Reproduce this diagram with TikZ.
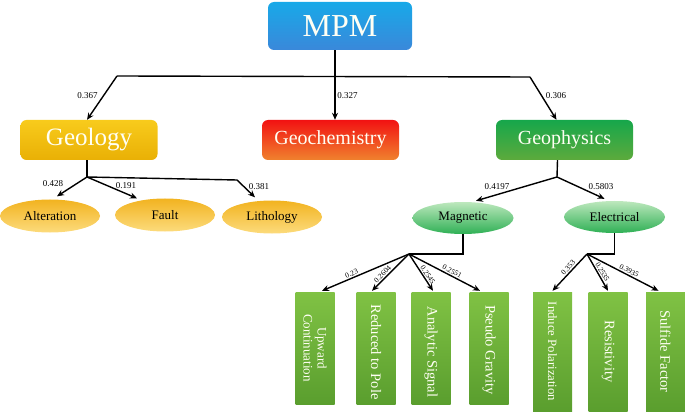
\documentclass[tikz,border=0pt]{standalone}
\usepackage{fontspec}
\setmainfont{Liberation Serif}
\usetikzlibrary{arrows.meta,shapes.geometric,calc}
\definecolor{mpmtop}{HTML}{18A9E8}
\definecolor{mpmbot}{HTML}{3A88DA}
\definecolor{geotop}{HTML}{F8CB1C}
\definecolor{geobot}{HTML}{E9B005}
\definecolor{chemtop}{HTML}{F21212}
\definecolor{chembot}{HTML}{F0822E}
\definecolor{phystop}{HTML}{16A74B}
\definecolor{physbot}{HTML}{5DAA3C}
\definecolor{ytop}{HTML}{F2B320}
\definecolor{ybot}{HTML}{FCDB7C}
\definecolor{gtop}{HTML}{BDE8BD}
\definecolor{gbot}{HTML}{2FB055}
\definecolor{vtop}{HTML}{80C244}
\definecolor{vbot}{HTML}{5A9E2E}
\definecolor{txtwhite}{HTML}{FFFFF4}
\begin{document}
\begin{tikzpicture}[x=1pt,y=-1pt,
  topbox/.style={rounded corners=6pt, text=txtwhite, inner sep=0pt, minimum height=40pt, minimum width=137pt, font=\fontsize{20}{24}\selectfont},
  yell/.style={ellipse, inner sep=0pt, minimum width=100pt, minimum height=33pt, top color=ytop, bottom color=ybot, font=\fontsize{13}{15}\selectfont},
  gell/.style={ellipse, inner sep=0pt, minimum width=101pt, minimum height=32pt, top color=gtop, bottom color=gbot, font=\fontsize{13}{15}\selectfont},
  vbox/.style={rectangle, inner sep=0pt, minimum width=39pt, top color=vtop, bottom color=vbot},
  vtext/.style={rotate=-90, text=txtwhite, align=center, inner sep=0pt, font=\fontsize{14.5}{15}\selectfont},
  wlab/.style={inner sep=1pt, font=\fontsize{9}{10}\selectfont},
  slab/.style={inner sep=1.2pt, sloped, above, font=\fontsize{7.5}{8}\selectfont},
  conn/.style={line width=1.4pt, black},
  arr/.style={conn, -{Stealth[length=7pt,width=6pt]}}]
\path[use as bounding box] (0,0) rectangle (685,414);

% top level
\node[topbox, minimum width=144pt, minimum height=48pt, top color=mpmtop, bottom color=mpmbot, font=\fontsize{32}{36}\selectfont] (mpm) at (340,26) {MPM};
\node[topbox, top color=geotop, bottom color=geobot, font=\fontsize{25}{30}\selectfont] (geol) at (89,140) {Geology};
\node[topbox, top color=chemtop, bottom color=chembot] (chem) at (330.5,140) {Geochemistry};
\node[topbox, top color=phystop, bottom color=physbot] (phys) at (564.5,140) {Geophysics};

\coordinate (j0) at (335,76);
\coordinate (cL) at (117,76);
\coordinate (cR) at (530,77);
\draw[conn] (mpm.south -| j0) -- (j0);
\draw[conn] (cL) -- (cR);
\draw[arr] (cL) -- ($(geol.north)+(-2,0)$);
\draw[arr] (j0) -- (chem.north -| j0);
\draw[arr] (cR) -- ($(phys.north)+(-8,0)$);
\node[wlab] (w367) at (87.5,96) {0.367};
\node[wlab] (w327) at (347.5,96) {0.327};
\node[wlab] (w306) at (556,96) {0.306};

% geology children
\node[yell] (alt) at (50,216) {Alteration};
\node[yell] (fault) at (165,215) {Fault};
\node[yell] (lith) at (272,217) {Lithology};
\coordinate (jG) at (87,177);
\coordinate (kL) at (237,180);
\draw[conn] ($(geol.south)+(-2,0)$) -- (jG);
\draw[arr] (jG) -- ($(alt.north)+(7,-3)$);
\draw[arr] (jG) -- ($(fault.north)+(-28,0)$);
\draw[arr] (jG) -- (kL) -- ($(lith.north)+(-17,-3)$);
\node[wlab] (w428) at (53,184) {0.428};
\node[wlab] (w191) at (126,186) {0.191};
\node[wlab] (w381) at (259,187) {0.381};

% geophysics children
\node[gell] (mag) at (463,218) {Magnetic};
\node[gell] (elec) at (614.5,217) {Electrical};
\coordinate (jP) at (557,177);
\draw[conn] ($(phys.south)+(-7,0)$) -- (jP);
\draw[arr] (jP) -- ($(mag.north)+(13,-1)$);
\draw[arr] (jP) -- ($(elec.north)+(-10,-2)$);
\node[wlab] (w4197) at (497,187) {0.4197};
\node[wlab] (w5803) at (601,187) {0.5803};

% magnetic boxes
\node[vbox, minimum height=112pt] (up) at (315,348) {};
\node[vbox, minimum height=112pt] (red) at (376,348) {};
\node[vbox, minimum height=112pt] (ana) at (431,348) {};
\node[vbox, minimum height=112pt] (pse) at (489,348) {};
\node[vtext, font=\fontsize{13}{14}\selectfont] (tup) at (up.center) {Upward\\Continuation};
\node[vtext] (tred) at ([yshift=-4pt]red.center) {Reduced to Pole};
\node[vtext] (tana) at ([yshift=-4pt]ana.center) {Analytic Signal};
\node[vtext] (tpse) at ([yshift=-2pt]pse.center) {Pseudo Gravity};

\coordinate (jM) at (409,254);
\draw[conn] (mag.south) |- (jM);
\draw[arr] (jM) -- node[slab, pos=0.64] (w23) {0.23} ($(up.north)+(7,-1)$);
\draw[arr] (jM) -- node[slab, pos=0.63] (w2604) {0.2604} ($(red.north)+(-4,-1)$);
\draw[arr] (jM) -- node[slab, pos=0.63] (w2545) {0.2545} ($(ana.north)+(2,-1)$);
\draw[arr] (jM) -- node[slab, pos=0.58] (w2551) {0.2551} ($(pse.north)+(-9,-1)$);

% electrical boxes
\node[vbox, minimum height=119pt] (ind) at (552.5,351.5) {};
\node[vbox, minimum height=119pt] (res) at (608,351.5) {};
\node[vbox, minimum height=119pt] (sul) at (665.5,351.5) {};
\node[vtext, font=\fontsize{12.7}{14}\selectfont] (tind) at (ind.center) {Induce Polarization};
\node[vtext] (tres) at (res.center) {Resistivity};
\node[vtext] (tsul) at (sul.center) {Sulfide Factor};

\coordinate (jE) at (587,254);
\draw[conn] (elec.south) |- (jE);
\draw[arr] (jE) -- node[slab, pos=0.45] (w353) {0.353} ($(ind.north)+(0,-1)$);
\draw[arr] (jE) -- node[slab, pos=0.55] (w2535) {0.2535} ($(res.north)+(0,-1)$);
\draw[arr] (jE) -- node[slab, pos=0.56] (w3935) {0.3935} ($(sul.north)+(-7,-1)$);
\end{tikzpicture}
\end{document}
